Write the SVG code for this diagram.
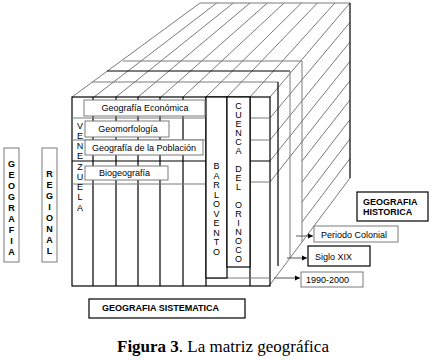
<svg xmlns="http://www.w3.org/2000/svg" width="431" height="360" viewBox="0 0 431 360">
<defs>
<marker id="ah" markerWidth="6" markerHeight="6" refX="5" refY="3" orient="auto" markerUnits="userSpaceOnUse">
<path d="M0,0.5 L5,3 L0,5.5 Z" fill="#000"/>
</marker>
</defs>
<style>
.g{stroke:#7a7a7a;stroke-width:1;fill:none}
.k{stroke:#000;stroke-width:1.2;fill:none}
.bx{fill:#fff;stroke:#7a7a7a;stroke-width:1}
.bk{fill:#fff;stroke:#000;stroke-width:1.2}
.t{font-family:"Liberation Sans",Arial,sans-serif;font-size:9px;fill:#000}
.b{font-family:"Liberation Sans",Arial,sans-serif;font-size:9px;font-weight:bold;fill:#000}
.v{font-family:"Liberation Sans",Arial,sans-serif;font-size:9px;fill:#000;text-anchor:middle}
.vb{font-family:"Liberation Sans",Arial,sans-serif;font-size:9px;font-weight:bold;fill:#000;text-anchor:middle}
.ar{stroke:#555;stroke-width:1;fill:none;marker-end:url(#ah)}
</style>
<rect width="431" height="360" fill="#fff"/>
<g id="connectors">
<!-- top face hatching -->
<path class="g" d="M72,97 L200,3 M94,97 L216.7,3 M116,97 L233.3,3 M138,97 L250,3 M161,97 L267.4,3 M183,97 L284.1,3 M206,97 L301.5,3 M227,97 L317.4,3 M250,97 L334.8,3 M270,97 L350,3"/>
<path class="g" d="M200,3 L350,3"/>
<!-- right face hatching -->
<path class="g" d="M270,118 L350,22.4 M270,140 L350,42 M270,161 L350,61.3 M270,182 L350,80.8 M302,161 L350,100 M302,182 L350,119.6 M302,202 L350,139 M302,222 L350,158.5"/>
<path class="g" d="M269,286 L350,178"/>
<path class="k" d="M350,3 L350,178"/>
<!-- back layers -->
<path class="g" d="M123,61 L302,61 L302,242"/>
<path class="k" d="M107,71 L290,71"/>
<path class="g" d="M290,71 L290,258"/>
<path class="g" d="M92,82 L278,82"/>
<path class="k" d="M278,82 L278,266"/>
<!-- arrows -->
<path class="ar" d="M296,236 L313,236"/>
<path class="ar" d="M287,258 L307,258"/>
<path class="ar" d="M274,278 L300,278"/>
</g>
<g id="front-face">
<rect class="k" x="72" y="97" width="198" height="189" fill="#fff"/>
<path class="k" d="M93,97 V286 M116,97 V286 M138,97 V286 M160,97 V286 M183,97 V286 M206,97 V286 M250,97 V286"/>
<path class="g" d="M72,118 H206 M72,140 H206 M72,184 H206 M250,118 H270 M250,140 H270 M250,182 H270 M206,278 H270"/>
<path class="k" d="M72,161 H206 M250,161 H270"/>
<rect class="bk" x="206" y="97" width="21" height="181"/>
<rect class="bk" x="227" y="97" width="23" height="170"/>
</g>
<g id="venezuela">
<text class="v"><tspan x="80" y="129">V</tspan><tspan x="80" y="139">E</tspan><tspan x="80" y="149">N</tspan><tspan x="80" y="159">E</tspan><tspan x="80" y="170">Z</tspan><tspan x="80" y="180">U</tspan><tspan x="80" y="190">E</tspan><tspan x="80" y="200">L</tspan><tspan x="80" y="211">A</tspan></text>
</g>
<g id="geo-economica">
<rect class="bx" x="84" y="100" width="121" height="16"/>
<text class="t" x="145" y="111" text-anchor="middle" font-size="9.3">Geografía Económica</text>
</g>
<g id="geomorfologia">
<rect class="bx" x="85" y="121" width="84" height="16"/>
<text class="t" x="128" y="132" text-anchor="middle" font-size="9.3">Geomorfología</text>
</g>
<g id="geo-poblacion">
<rect class="bx" x="85" y="140" width="118" height="15"/>
<text class="t" x="144" y="151" text-anchor="middle">Geografía de la Población</text>
</g>
<g id="biogeografia">
<rect class="bx" x="85" y="166" width="83" height="14"/>
<text class="t" x="99" y="176">Biogeografía</text>
</g>
<g id="barlovento">
<text class="v"><tspan x="216.5" y="169">B</tspan><tspan x="216.5" y="178.5">A</tspan><tspan x="216.5" y="188">R</tspan><tspan x="216.5" y="197.5">L</tspan><tspan x="216.5" y="207">O</tspan><tspan x="216.5" y="216.5">V</tspan><tspan x="216.5" y="226">E</tspan><tspan x="216.5" y="235.5">N</tspan><tspan x="216.5" y="245">T</tspan><tspan x="216.5" y="254.5">O</tspan></text>
</g>
<g id="cuenca">
<text class="v" font-size="8.5"><tspan x="238.5" y="109">C</tspan><tspan x="238.5" y="118">U</tspan><tspan x="238.5" y="127">E</tspan><tspan x="238.5" y="136">N</tspan><tspan x="238.5" y="145">C</tspan><tspan x="238.5" y="154">A</tspan><tspan x="238.5" y="172">D</tspan><tspan x="238.5" y="181">E</tspan><tspan x="238.5" y="190">L</tspan><tspan x="238.5" y="208">O</tspan><tspan x="238.5" y="217">R</tspan><tspan x="238.5" y="226">I</tspan><tspan x="238.5" y="235">N</tspan><tspan x="238.5" y="244">O</tspan><tspan x="238.5" y="253">C</tspan><tspan x="238.5" y="262">O</tspan></text>
</g>
<g id="geografia">
<rect class="bx" x="4" y="148" width="15" height="114"/>
<text class="vb"><tspan x="11.5" y="167">G</tspan><tspan x="11.5" y="178">E</tspan><tspan x="11.5" y="189">O</tspan><tspan x="11.5" y="200">G</tspan><tspan x="11.5" y="211">R</tspan><tspan x="11.5" y="222">A</tspan><tspan x="11.5" y="233">F</tspan><tspan x="11.5" y="244">I</tspan><tspan x="11.5" y="255">A</tspan></text>
</g>
<g id="regional">
<rect class="bx" x="42" y="148" width="15" height="114"/>
<text class="vb"><tspan x="49.5" y="177">R</tspan><tspan x="49.5" y="188">E</tspan><tspan x="49.5" y="199">G</tspan><tspan x="49.5" y="210">I</tspan><tspan x="49.5" y="221">O</tspan><tspan x="49.5" y="232">N</tspan><tspan x="49.5" y="243">A</tspan><tspan x="49.5" y="254">L</tspan></text>
</g>
<g id="historica">
<rect class="bk" x="357" y="192" width="71" height="29"/>
<text class="b" x="363" y="205">GEOGRAFIA</text>
<text class="b" x="363" y="215">HISTORICA</text>
</g>
<g id="colonial">
<rect class="bx" x="314" y="226" width="84" height="16"/>
<text class="t" x="321" y="237.5" font-size="10">Periodo Colonial</text>
</g>
<g id="sigloxix">
<rect class="bk" x="308" y="246" width="62" height="20"/>
<text class="t" x="315" y="259.5" font-size="10">Siglo XIX</text>
</g>
<g id="y1990">
<rect class="bx" x="301" y="272" width="62" height="15"/>
<text class="t" x="306" y="283" font-size="10">1990-2000</text>
</g>
<g id="sistematica">
<rect class="bk" x="89" y="299" width="156" height="19"/>
<text class="b" x="102" y="311">GEOGRAFIA SISTEMATICA</text>
</g>
<text x="117" y="352" font-family="Liberation Serif,Times New Roman,serif" font-size="17" fill="#000"><tspan font-weight="bold">Figura 3</tspan>. La matriz geográfica</text>
</svg>
